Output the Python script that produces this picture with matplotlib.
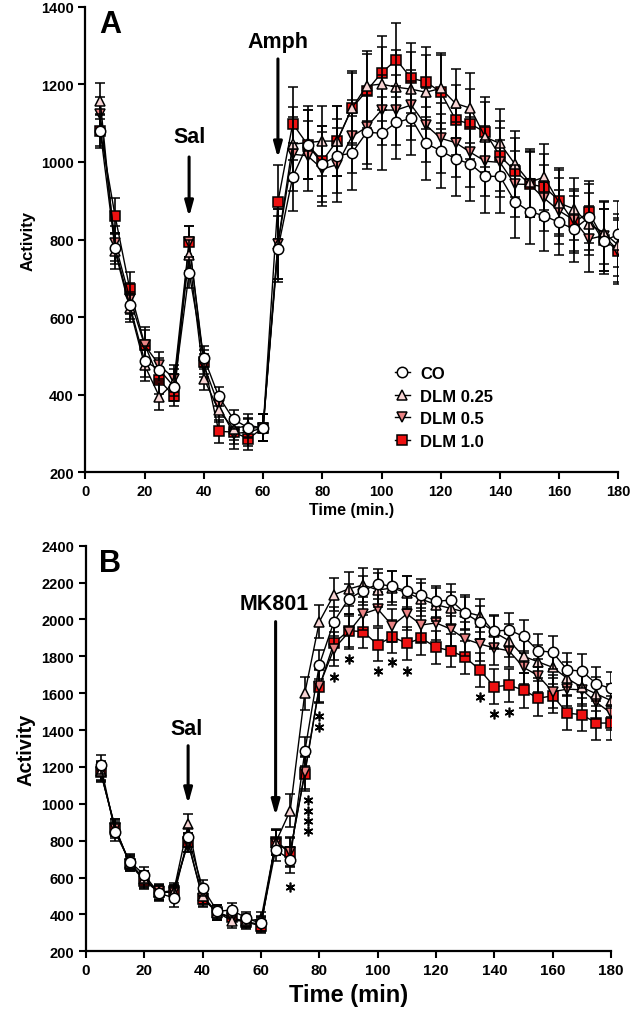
import numpy as np
import matplotlib.pyplot as plt
from matplotlib.lines import Line2D

plt.rcParams['font.family'] = ['Liberation Sans', 'DejaVu Sans']
plt.rcParams['font.weight'] = 'bold'
plt.rcParams['axes.labelweight'] = 'bold'

# time points (min)
t = [5, 10, 15, 20, 25, 30, 35, 40, 45, 50, 55, 60, 65, 70, 75, 80, 85, 90,
     95, 100, 105, 110, 115, 120, 125, 130, 135, 140, 145, 150, 155, 160, 165, 170, 175, 180]

# panel A (Amph)
a_co = [1080, 778, 630, 486, 464, 419, 714, 495, 395, 336, 314, 314, 776, 962, 1045, 995, 1016, 1023,
        1077, 1074, 1102, 1113, 1048, 1029, 1008, 995, 963, 963, 898, 872, 861, 844, 827, 857, 795, 814]
a_d25 = [1157, 770, 622, 475, 394, 432, 759, 441, 359, 312, 320, 314, 789, 1046, 1050, 1054, 1054, 1139,
         1197, 1201, 1193, 1188, 1180, 1190, 1151, 1139, 1064, 1048, 995, 948, 961, 894, 879, 840, 818, 785]
a_d5 = [1123, 790, 647, 527, 475, 441, 794, 475, 372, 299, 303, 314, 789, 1020, 1016, 982, 993, 1066,
        1090, 1134, 1134, 1147, 1095, 1061, 1050, 1025, 1002, 999, 943, 942, 906, 874, 850, 801, 810, 771]
a_d10 = [1080, 861, 671, 529, 437, 395, 794, 484, 305, 303, 286, 314, 897, 1099, 1045, 1003, 1055, 1139,
         1184, 1230, 1264, 1216, 1207, 1180, 1109, 1098, 1077, 1015, 978, 943, 935, 900, 844, 870, 800, 771]
a_co_err = [45, 40, 35, 40, 30, 35, 40, 30, 25, 25, 25, 35, 85, 88, 90, 99, 95, 95,
            95, 95, 95, 95, 95, 95, 95, 95, 95, 95, 95, 84, 90, 85, 85, 85, 85, 85]
a_d25_err = [47, 45, 35, 40, 35, 35, 40, 30, 30, 30, 30, 35, 90, 95, 95, 90, 90, 90,
             90, 95, 95, 95, 95, 90, 90, 90, 90, 90, 85, 85, 85, 85, 80, 80, 80, 80]
a_d5_err = [45, 45, 40, 40, 35, 35, 40, 30, 30, 40, 35, 35, 90, 95, 90, 95, 95, 95,
            95, 90, 90, 90, 95, 90, 90, 90, 90, 90, 85, 85, 85, 85, 80, 85, 90, 85]
a_d10_err = [40, 45, 45, 45, 35, 25, 40, 30, 30, 30, 30, 35, 95, 95, 90, 90, 90, 95,
             95, 95, 95, 90, 90, 95, 90, 90, 90, 90, 85, 85, 85, 85, 80, 80, 80, 80]

# panel B (MK801)
b_co = [1212, 845, 686, 614, 514, 491, 818, 543, 417, 424, 379, 352, 751, 697, 1284, 1755, 1988, 2111,
        2156, 2192, 2180, 2153, 2133, 2098, 2105, 2033, 1984, 1936, 1943, 1908, 1830, 1822, 1726, 1720, 1650, 1626]
b_d25 = [1180, 860, 680, 592, 520, 520, 890, 500, 410, 366, 365, 375, 790, 963, 1599, 1988, 2134, 2165,
         2187, 2160, 2170, 2145, 2110, 2080, 2060, 2040, 2020, 1930, 1885, 1800, 1770, 1740, 1680, 1632, 1596, 1560]
b_d5 = [1175, 870, 675, 590, 525, 520, 790, 490, 410, 380, 360, 345, 790, 736, 1170, 1640, 1840, 1930,
        2030, 2057, 1966, 2030, 1970, 1981, 1948, 1894, 1867, 1845, 1830, 1740, 1695, 1608, 1622, 1618, 1550, 1492]
b_d10 = [1170, 870, 673, 583, 520, 529, 791, 484, 411, 384, 357, 339, 795, 740, 1162, 1635, 1872, 1939,
         1934, 1863, 1906, 1870, 1898, 1849, 1830, 1795, 1726, 1635, 1643, 1617, 1572, 1586, 1492, 1483, 1438, 1438]
b_co_err = [50, 45, 40, 45, 40, 50, 50, 45, 35, 40, 35, 40, 60, 70, 80, 80, 80, 80,
            80, 80, 85, 85, 85, 85, 85, 90, 90, 90, 90, 90, 90, 90, 90, 90, 90, 90]
b_d25_err = [50, 45, 40, 45, 40, 40, 55, 45, 40, 40, 35, 40, 70, 90, 90, 90, 90, 90,
             90, 90, 90, 90, 90, 90, 90, 90, 90, 90, 90, 90, 90, 90, 90, 90, 90, 90]
b_d5_err = [50, 45, 40, 45, 40, 40, 50, 45, 40, 40, 35, 40, 70, 80, 90, 90, 90, 90,
            90, 90, 90, 90, 90, 90, 90, 90, 90, 90, 90, 90, 90, 90, 90, 90, 90, 90]
b_d10_err = [50, 45, 40, 45, 40, 40, 50, 45, 40, 40, 35, 40, 70, 80, 90, 90, 90, 90,
             90, 90, 90, 90, 90, 90, 90, 90, 90, 95, 90, 95, 95, 95, 90, 90, 90, 90]

# significance stars in panel B
star_t = [70, 76, 76, 76, 76, 80, 80, 85, 90, 100, 105, 110, 135, 140, 145]
star_y = [548, 1020, 960, 905, 850, 1477, 1417, 1688, 1786, 1722, 1769, 1722, 1579, 1487, 1497]

labels = ['CO', 'DLM 0.25', 'DLM 0.5', 'DLM 1.0']
markers = ['o', '^', 'v', 's']
faces = ['white', '#f7d4d4', '#e98384', '#ee1111']
draw_order = [3, 2, 1, 0]


def draw(ax, series, errs):
    for i in draw_order:
        ax.errorbar(t, series[i], yerr=errs[i], fmt='-', marker=markers[i],
                    mfc=faces[i], mec='black', ms=7.5, mew=1.1, color='black', lw=1.0,
                    ecolor='black', elinewidth=1.2, capsize=3.5, capthick=1.2, zorder=10 - i)
    ax.set_xlim(0, 180)
    ax.set_xticks(range(0, 181, 20))
    for s in ['top', 'right']:
        ax.spines[s].set_visible(False)
    for s in ['left', 'bottom']:
        ax.spines[s].set_linewidth(1.6)
    ax.tick_params(direction='out', length=5, width=1.5, labelsize=10.5)


fig = plt.figure(figsize=(6.33, 10.12), dpi=100)
axA = fig.add_axes([0.135, 0.5326, 0.842, 0.4595])
axB = fig.add_axes([0.1359, 0.059, 0.8294, 0.4008])

arrow = dict(arrowstyle='-|>,head_length=0.9,head_width=0.25', lw=2.2, color='black',
             shrinkA=0, shrinkB=0)

# ---- A
draw(axA, [a_co, a_d25, a_d5, a_d10], [a_co_err, a_d25_err, a_d5_err, a_d10_err])
axA.set_ylim(200, 1400)
axA.set_yticks(range(200, 1401, 200))
axA.set_ylabel('Activity', fontsize=12)
axA.set_xlabel('Time (min.)', fontsize=11.5, labelpad=3)
axA.text(0.025, 0.995, 'A', transform=axA.transAxes, fontsize=22, va='top', ha='left')
axA.text(35, 1065, 'Sal', fontsize=15.5, ha='center', va='center')
axA.annotate('', xy=(35, 858), xytext=(35, 1013), arrowprops=arrow)
axA.text(65, 1310, 'Amph', fontsize=15.5, ha='center', va='center')
axA.annotate('', xy=(65, 1010), xytext=(65, 1266), arrowprops=arrow)
handles = [Line2D([], [], color='black', lw=1.0, marker=markers[i], mfc=faces[i], mec='black',
                  ms=7.5, mew=1.1) for i in range(4)]
axA.legend(handles, labels, loc='upper left', bbox_to_anchor=(0.552, 0.26), frameon=False,
           fontsize=12, handlelength=0.9, handletextpad=0.63, labelspacing=0.45)

# ---- B
draw(axB, [b_co, b_d25, b_d5, b_d10], [b_co_err, b_d25_err, b_d5_err, b_d10_err])
axB.set_ylim(200, 2400)
axB.set_yticks(range(200, 2401, 200))
axB.tick_params(axis='x', labelsize=11)
axB.set_ylabel('Activity', fontsize=14.5)
axB.set_xlabel('Time (min)', fontsize=17, labelpad=4)
axB.text(0.025, 0.995, 'B', transform=axB.transAxes, fontsize=22, va='top', ha='left')
axB.text(34.5, 1406, 'Sal', fontsize=15.5, ha='center', va='center')
axB.annotate('', xy=(35, 999), xytext=(35, 1315), arrowprops=arrow)
axB.text(64.5, 2089, 'MK801', fontsize=15.5, ha='center', va='center')
axB.annotate('', xy=(65, 935), xytext=(65, 1988), arrowprops=arrow)
axB.plot(star_t, star_y, ls='none', marker=(6, 2, 0), ms=7, mew=1.2, color='black', zorder=12)

fig.savefig('out.png', dpi=100)
